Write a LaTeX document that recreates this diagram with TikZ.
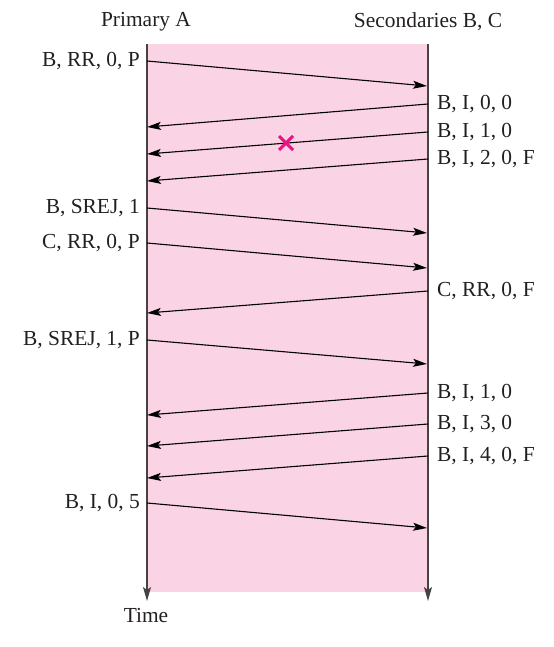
\documentclass[tikz,border=0pt]{standalone}
\usepackage{fontspec}
\setmainfont{Liberation Serif}
\usetikzlibrary{arrows.meta}
\definecolor{pinkbg}{RGB}{250,212,229}
\definecolor{txt}{RGB}{35,31,32}
\definecolor{crossc}{RGB}{232,20,130}
\definecolor{linec}{RGB}{70,66,68}
\begin{document}
\begin{tikzpicture}[x=1bp,y=-1bp,
  lbl/.style={font=\fontsize{21.5}{25}\selectfont, text=txt, inner sep=0pt},
  msg/.style={draw=black, line width=1.1bp, -{Stealth[length=14bp,width=8bp,inset=3bp]}},
  tline/.style={draw=linec, line width=1.4bp, -{Stealth[length=14bp,width=8bp,inset=3bp]}}]
\useasboundingbox (0,0) rectangle (554,647);
\fill[pinkbg] (147,44) rectangle (428,592);
% time lines
\coordinate (atop) at (147,44);
\coordinate (abot) at (147,601);
\coordinate (btop) at (428,44);
\coordinate (bbot) at (428,601);
\draw[tline] (atop) -- (abot);
\draw[tline] (btop) -- (bbot);
% headers
\node[lbl] (hA) at (146,22) {Primary A};
\node[lbl] (hB) at (428,22) {Secondaries B, C};
\node[lbl] (time) at (146,616) {Time};
% left points
\coordinate (L1) at (147,61);
\coordinate (L2) at (147,127);
\coordinate (L3) at (147,154);
\coordinate (L4) at (147,181);
\coordinate (L5) at (147,208);
\coordinate (L6) at (147,243);
\coordinate (L7) at (147,313);
\coordinate (L8) at (147,340);
\coordinate (L9) at (147,415);
\coordinate (L10) at (147,446);
\coordinate (L11) at (147,478);
\coordinate (L12) at (147,503);
% right points
\coordinate (R1) at (427,86);
\coordinate (R2) at (428,104);
\coordinate (R3) at (428,132);
\coordinate (R4) at (428,159);
\coordinate (R5) at (427,233);
\coordinate (R6) at (427,268);
\coordinate (R7) at (428,291);
\coordinate (R8) at (427,364);
\coordinate (R9) at (428,393);
\coordinate (R10) at (428,424);
\coordinate (R11) at (428,456);
\coordinate (R12) at (427,528);
% messages
\draw[msg] (L1) -- (R1);
\draw[msg] (R2) -- (L2);
\draw[msg] (R3) -- (L3);
\draw[msg] (R4) -- (L4);
\draw[msg] (L5) -- (R5);
\draw[msg] (L6) -- (R6);
\draw[msg] (R7) -- (L7);
\draw[msg] (L8) -- (R8);
\draw[msg] (R9) -- (L9);
\draw[msg] (R10) -- (L10);
\draw[msg] (R11) -- (L11);
\draw[msg] (L12) -- (R12);
% left labels
\node[lbl, anchor=east] (t1) at (140,61) {B, RR, 0, P};
\node[lbl, anchor=east] (t5) at (140,208) {B, SREJ, 1};
\node[lbl, anchor=east] (t6) at (140,243) {C, RR, 0, P};
\node[lbl, anchor=east] (t8) at (140,340) {B, SREJ, 1, P};
\node[lbl, anchor=east] (t12) at (140,503) {B, I, 0, 5};
% right labels
\node[lbl, anchor=west] (t2) at (437,104) {B, I, 0, 0};
\node[lbl, anchor=west] (t3) at (437,132) {B, I, 1, 0};
\node[lbl, anchor=west] (t4) at (437,159) {B, I, 2, 0, F};
\node[lbl, anchor=west] (t7) at (437,291) {C, RR, 0, F};
\node[lbl, anchor=west] (t9) at (437,393) {B, I, 1, 0};
\node[lbl, anchor=west] (t10) at (437,424) {B, I, 3, 0};
\node[lbl, anchor=west] (t11) at (437,456) {B, I, 4, 0, F};
% lost frame cross
\coordinate (x) at (286,143);
\draw[crossc, line width=3bp] ([shift={(-7,-7)}]x) -- ([shift={(7,7)}]x)
  ([shift={(-7,7)}]x) -- ([shift={(7,-7)}]x);
\end{tikzpicture}
\end{document}
